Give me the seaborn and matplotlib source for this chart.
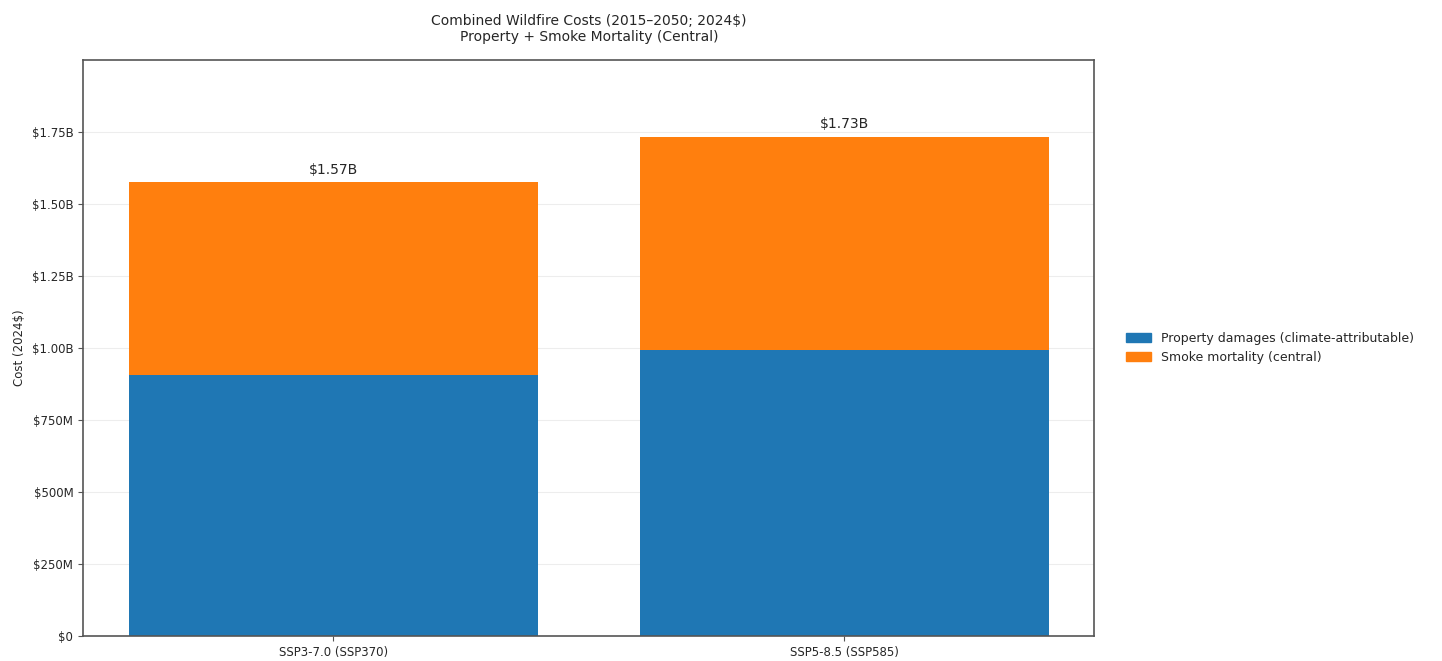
import matplotlib
matplotlib.use("Agg")
import matplotlib.pyplot as plt
import seaborn as sns
import pandas as pd
from matplotlib.patches import Patch
from matplotlib.ticker import FuncFormatter

# --- data (2024$) ---
scenarios = ["SSP3-7.0 (SSP370)", "SSP5-8.5 (SSP585)"]
property_damages = [0.906e9, 0.993e9]
smoke_mortality = [0.669e9, 0.740e9]
total_labels = ["$1.57B", "$1.73B"]

totals = [p + s for p, s in zip(property_damages, smoke_mortality)]
df = pd.DataFrame({"scenario": scenarios, "property": property_damages, "total": totals})

sns.set_style("white")
plt.rcParams["font.family"] = ["DejaVu Sans"]

fig = plt.figure(figsize=(14.42, 6.61), dpi=100)
ax = fig.add_axes([0.0576, 0.038, 0.7014, 0.871])

blue, orange = "#1f77b4", "#ff7f0e"
# totals drawn in orange, property drawn on top in blue -> stacked look
sns.barplot(data=df, x="scenario", y="total", color=orange, saturation=1, width=0.8,
            linewidth=0, ax=ax)
sns.barplot(data=df, x="scenario", y="property", color=blue, saturation=1, width=0.8,
            linewidth=0, ax=ax)

ax.set_xlim(-0.49, 1.49)
ax.set_ylim(0, 2.0e9)
ax.set_yticks([0, 0.25e9, 0.5e9, 0.75e9, 1.0e9, 1.25e9, 1.5e9, 1.75e9])

def fmt(v, pos):
    if v == 0:
        return "$0"
    if v >= 1e9:
        return f"${v/1e9:.2f}B"
    return f"${v/1e6:.0f}M"

ax.yaxis.set_major_formatter(FuncFormatter(fmt))
ax.grid(axis="y", alpha=0.35)
ax.set_axisbelow(True)
for sp in ax.spines.values():
    sp.set_color("#555555")
    sp.set_linewidth(1.2)
ax.tick_params(axis="both", labelsize=8.5, length=3.5, color="#555555", left=True, bottom=True)
ax.set_xlabel("")
ax.set_ylabel("Cost (2024$)", fontsize=8.5)

for i, (t, lab) in enumerate(zip(totals, total_labels)):
    ax.annotate(lab, (i, t), xytext=(0, 4), textcoords="offset points",
                ha="center", va="bottom", fontsize=10)

ax.set_title("Combined Wildfire Costs (2015\u20132050; 2024$)\nProperty + Smoke Mortality (Central)",
             fontsize=10, pad=14)

handles = [Patch(color=blue, label="Property damages (climate-attributable)"),
           Patch(color=orange, label="Smoke mortality (central)")]
ax.legend(handles=handles, loc="center left", bbox_to_anchor=(1.02, 0.5),
          frameon=False, fontsize=9)

fig.savefig("out.png", dpi=100, facecolor="white")
